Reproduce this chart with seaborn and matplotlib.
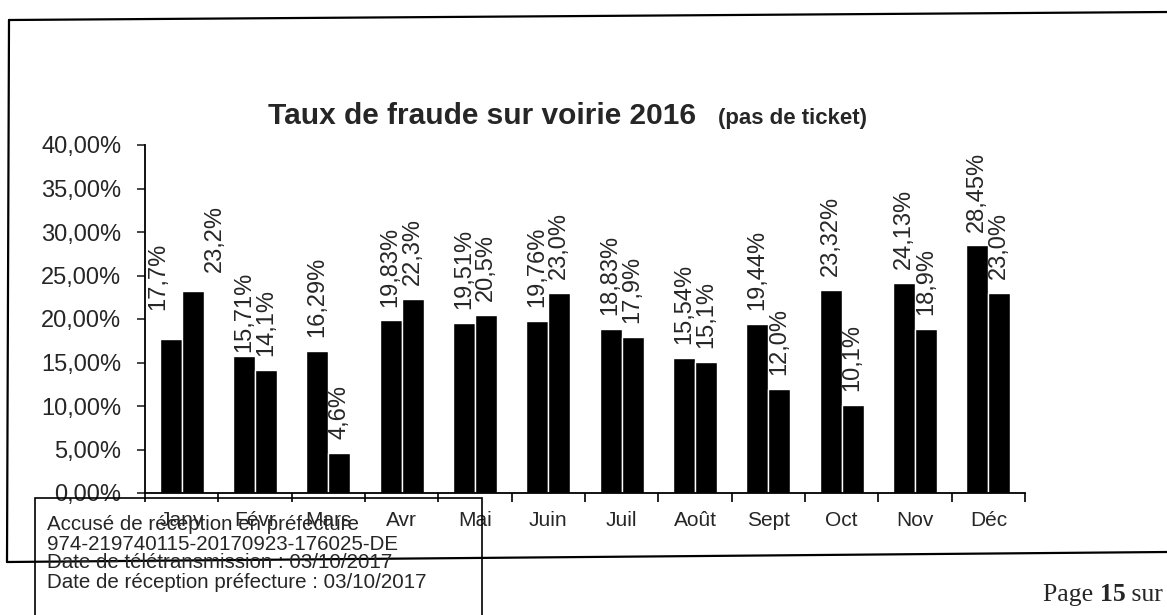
import numpy as np
import pandas as pd
import matplotlib
matplotlib.use("Agg")
import matplotlib.pyplot as plt
import seaborn as sns
from matplotlib.lines import Line2D
from matplotlib.patches import Rectangle
from matplotlib.ticker import FuncFormatter

# ---------------- data ----------------
mois = ["Janv", "Févr", "Mars", "Avr", "Mai", "Juin", "Juil", "Août",
        "Sept", "Oct", "Nov", "Déc"]
serie_a = [17.7, 15.71, 16.29, 19.83, 19.51, 19.76, 18.83, 15.54,
           19.44, 23.32, 24.13, 28.45]
serie_b = [23.2, 14.1, 4.6, 22.3, 20.5, 23.0, 17.9, 15.1,
           12.0, 10.1, 18.9, 23.0]
etiq_a = ["17,7%", "15,71%", "16,29%", "19,83%", "19,51%", "19,76%",
          "18,83%", "15,54%", "19,44%", "23,32%", "24,13%", "28,45%"]
etiq_b = ["23,2%", "14,1%", "4,6%", "22,3%", "20,5%", "23,0%",
          "17,9%", "15,1%", "12,0%", "10,1%", "18,9%", "23,0%"]
y_ticks = [0, 5, 10, 15, 20, 25, 30, 35, 40]
titre = "Taux de fraude sur voirie 2016"
sous_titre = "(pas de ticket)"
tampon = ["Accusé de réception en préfecture",
          "974-219740115-20170923-176025-DE",
          "Date de télétransmission : 03/10/2017",
          "Date de réception préfecture : 03/10/2017"]

df = pd.DataFrame({
    "mois": mois * 2,
    "taux": serie_a + serie_b,
    "serie": ["A"] * len(mois) + ["B"] * len(mois),
})

# ---------------- style ----------------
sns.set_style("ticks")
plt.rcParams["font.family"] = ["Liberation Sans", "DejaVu Sans"]
SERIF = ["Liberation Serif", "DejaVu Serif"]

W, H = 1167, 615
fig = plt.figure(figsize=(W / 100, H / 100), dpi=100)
fig.patch.set_facecolor("white")


def fx(px):
    return px / W


def fy(py):
    return 1 - py / H


ax = fig.add_axes([fx(145), fy(493), fx(1025) - fx(145), fy(145) - fy(493)])
sns.barplot(data=df, x="mois", y="taux", hue="serie", order=mois,
            palette=["black", "black"], saturation=1, width=0.6, gap=0,
            legend=False, ax=ax, errorbar=None)

ax.set_xlim(-0.5, len(mois) - 0.5)
ax.set_ylim(0, 40)
ax.set_yticks(y_ticks)
ax.yaxis.set_major_formatter(FuncFormatter(lambda v, p: f"{v:.2f}".replace(".", ",") + "%"))
ax.set_xticks(np.arange(-0.5, len(mois), 1), minor=True)
ax.tick_params(axis="x", which="major", length=0, pad=13, labelsize=15)
ax.tick_params(axis="x", which="minor", length=6.5, width=1.2, color="black")
ax.tick_params(axis="y", length=6, width=1.2, pad=11, labelsize=17)
ax.set_xlabel("")
ax.set_ylabel("")
for s in ("top", "right"):
    ax.spines[s].set_visible(False)
for s in ("left", "bottom"):
    ax.spines[s].set_linewidth(1.3)
    ax.spines[s].set_color("black")

# bar labels (offsets in points)
decalages = {(0, 0): (-9, 21), (0, 1): (16, 14), (1, 0): (0, 3)}
for si, (cont, etiq) in enumerate(zip(ax.containers, [etiq_a, etiq_b])):
    for mi, (bar, txt) in enumerate(zip(cont, etiq)):
        dx, dy = decalages.get((mi, si), (0, 10))
        ax.annotate(txt, (bar.get_x() + bar.get_width() / 2, bar.get_height()),
                    xytext=(dx, dy), textcoords="offset points",
                    rotation=90, ha="center", va="bottom", fontsize=17,
                    annotation_clip=False)

# title
fig.text(fx(268), fy(124), titre, fontsize=21.5, fontweight="bold",
         va="baseline", ha="left")
fig.text(fx(718), fy(124), sous_titre, fontsize=16, fontweight="bold",
         va="baseline", ha="left")

# page frame (scanned document)
for (x0, y0), (x1, y1) in [((9, 20), (1167, 12)), ((9, 20), (7, 562)),
                           ((7, 562), (1167, 552))]:
    fig.add_artist(Line2D([fx(x0), fx(x1)], [fy(y0), fy(y1)],
                          transform=fig.transFigure, color="black", lw=1.6))

# stamp box
fig.add_artist(Rectangle((fx(35), fy(625)), fx(482) - fx(35), fy(498) - fy(625),
                         transform=fig.transFigure, fill=False,
                         edgecolor="black", lw=1.2))
for ligne, yy in zip(tampon, [525, 544, 563, 583]):
    fig.text(fx(47), fy(yy), ligne, fontsize=14.8, va="center", ha="left")

# page number
r = fig.canvas.get_renderer()
xp = 1043
for part, w in [("Page ", "normal"), ("15", "bold"), (" sur", "normal")]:
    t = fig.text(fx(xp), fy(601), part, fontsize=18.5, fontweight=w,
                 family=SERIF, va="baseline", ha="left")
    xp += t.get_window_extent(r).width

fig.savefig("out.png", dpi=100)
